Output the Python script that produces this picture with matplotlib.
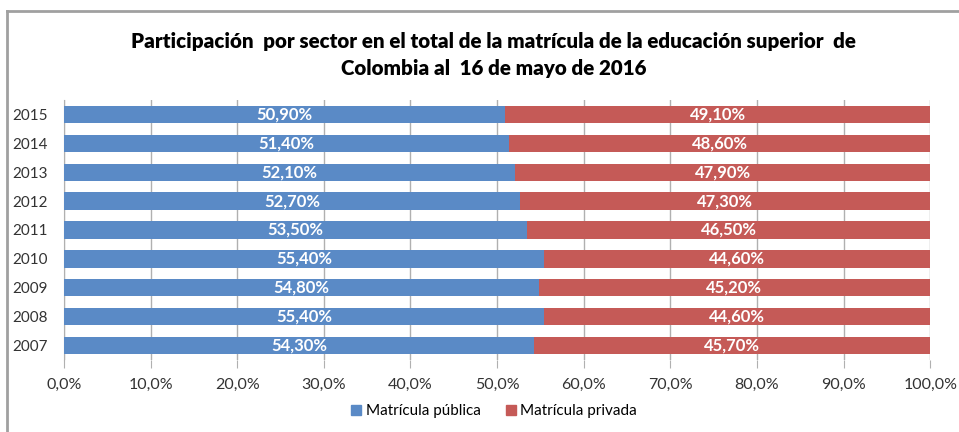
import numpy as np
import matplotlib.pyplot as plt
from matplotlib.lines import Line2D

years = ["2007", "2008", "2009", "2010", "2011", "2012", "2013", "2014", "2015"]
publica = [54.3, 55.4, 54.8, 55.4, 53.5, 52.7, 52.1, 51.4, 50.9]
privada = [45.7, 44.6, 45.2, 44.6, 46.5, 47.3, 47.9, 48.6, 49.1]
series_names = ["Matrícula pública", "Matrícula privada"]
x_ticks = np.arange(0, 101, 10)

plt.rcParams['font.family'] = ['Lato', 'DejaVu Sans']

c_pub = "#5A8AC6"
c_priv = "#C55A57"
grid_c = "#B0B0B0"

fig = plt.figure(figsize=(9.59, 4.32), dpi=100)
ax = fig.add_axes([0.0667, 0.1667, 0.9033, 0.6018])

y = np.arange(len(years))
ax.barh(y, publica, height=0.6, color=c_pub, label=series_names[0], zorder=3)
ax.barh(y, privada, left=publica, height=0.6, color=c_priv, label=series_names[1], zorder=3)

def fmt(v):
    return f"{v:.2f}%".replace(".", ",")

for yi, p, q in zip(y, publica, privada):
    ax.text(p / 2, yi, fmt(p), ha="center", va="center", color="white",
            fontsize=12, fontweight="bold", zorder=4)
    ax.text(p + q / 2, yi, fmt(q), ha="center", va="center", color="white",
            fontsize=12, fontweight="bold", zorder=4)

ax.set_xlim(0, 100)
ax.set_ylim(-0.5, len(years) - 0.5)
ax.set_xticks(x_ticks)
ax.set_xticklabels([f"{t:.1f}%".replace(".", ",") for t in x_ticks], fontsize=11.5, color="#333333")
ax.set_yticks(y)
ax.set_yticklabels(years, fontsize=11, color="#333333")
ax.tick_params(axis="y", length=0, pad=12)
ax.tick_params(axis="x", length=6, color=grid_c, pad=7)
ax.grid(axis="x", color=grid_c, linewidth=1, zorder=0)
for s in ["top", "right", "bottom"]:
    ax.spines[s].set_visible(False)
ax.spines["left"].set_color(grid_c)

fig.suptitle("Participación  por sector en el total de la matrícula de la educación superior  de\nColombia al  16 de mayo de 2016",
             x=0.515, y=0.925, va="top", fontsize=14.8, fontweight="heavy", linespacing=1.45)

handles = [Line2D([], [], marker="s", linestyle="none", markersize=7, color=c) for c in (c_pub, c_priv)]
fig.legend(handles, series_names, loc="center", bbox_to_anchor=(0.515, 0.048), ncol=2,
           frameon=False, fontsize=11, handlelength=0.7, handletextpad=0.3, columnspacing=1.6)

# chart frame (top and left edges visible)
fig.add_artist(Line2D([7 / 959, 7 / 959], [0, 1 - 11 / 432], color="#A0A0A0", linewidth=2, transform=fig.transFigure))
fig.add_artist(Line2D([7 / 959, 1], [1 - 11 / 432, 1 - 11 / 432], color="#A0A0A0", linewidth=2, transform=fig.transFigure))

fig.savefig("out.png", dpi=100)
